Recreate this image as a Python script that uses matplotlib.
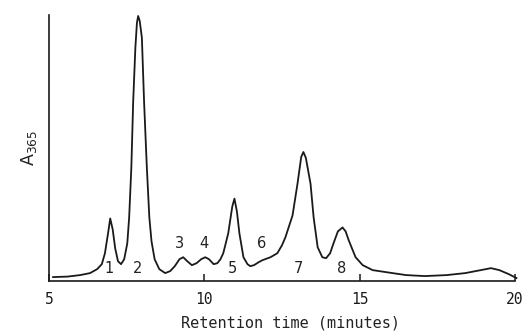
import matplotlib
matplotlib.use('Agg')
import matplotlib.pyplot as plt

# Chromatogram trace (retention time, absorbance in arbitrary units)
time_min = [5.13, 5.6, 6.0, 6.32, 6.55, 6.7, 6.8, 6.9, 6.97, 7.05, 7.13, 7.22, 7.32,
            7.42, 7.52, 7.58, 7.65, 7.71, 7.78, 7.83, 7.87, 7.92, 7.99, 8.06, 8.15,
            8.23, 8.3, 8.4, 8.55, 8.74, 8.9, 9.05, 9.2, 9.32, 9.45, 9.6, 9.75, 9.9,
            10.03, 10.15, 10.3, 10.42, 10.52, 10.61, 10.77, 10.9, 10.97, 11.05, 11.13,
            11.26, 11.39, 11.48, 11.6, 11.75, 11.87, 12.13, 12.35, 12.5, 12.61, 12.84,
            13.0, 13.12, 13.19, 13.27, 13.42, 13.52, 13.65, 13.8, 13.92, 14.05, 14.16,
            14.3, 14.45, 14.55, 14.65, 14.87, 15.1, 15.42, 16.06, 16.5, 17.1, 17.8,
            18.4, 18.9, 19.23, 19.5, 19.8, 20.05]
absorbance = [4, 4.5, 6, 8, 12, 17, 28, 48, 63, 52, 33, 20, 17,
              22, 38, 64, 114, 181, 235, 260, 267, 262, 245, 181, 114,
              64, 40, 22, 12, 8, 10, 15, 22, 24, 20, 16, 18, 22,
              24, 22, 17, 18, 22, 28, 48, 75, 83, 70, 48,
              24, 17, 15, 16, 19, 21, 24, 28, 36, 44, 66,
              98, 125, 130, 124, 98, 64, 34, 24, 23, 28, 38,
              50, 54, 50, 41, 24, 16, 11, 8, 6, 5, 6,
              8, 11, 13, 11, 7, 3]

# peak numbers and where they sit
peak_names = ['1', '2', '3', '4', '5', '6', '7', '8']
peak_x = [6.94, 7.84, 9.19, 10.0, 10.9, 11.84, 13.03, 14.42]
peak_y = [13, 13, 38, 38, 13, 38, 13, 13]

x_ticks = [5, 10, 15, 20]

fig = plt.figure(figsize=(5.3, 3.33), dpi=100)
ax = fig.add_axes([0.0925, 0.156, 0.879, 0.799])

ax.plot(time_min, absorbance, color='#1a1a1a', lw=1.3, clip_on=False)

for name, px, py in zip(peak_names, peak_x, peak_y):
    ax.text(px, py, name, ha='center', va='center', fontsize=10.5,
            color='#222222', family='DejaVu Sans')

ax.set_xlim(5, 20)
ax.set_ylim(0, 268)
ax.spines['top'].set_visible(False)
ax.spines['right'].set_visible(False)
ax.spines['left'].set_color('#1a1a1a')
ax.spines['bottom'].set_color('#1a1a1a')
ax.spines['left'].set_linewidth(1.2)
ax.spines['bottom'].set_linewidth(1.2)

ax.set_yticks([])
ax.set_xticks(x_ticks)
ax.set_xticklabels([str(t) for t in x_ticks], family='DejaVu Sans Mono', fontsize=10.5)
ax.tick_params(axis='x', direction='in', length=5, width=1.1, pad=8, colors='#1a1a1a')

ax.set_xlabel('Retention time (minutes)', family='DejaVu Sans Mono', fontsize=11,
              color='#222222')
ax.xaxis.set_label_coords(0.519, -0.13)
ax.set_ylabel(r'A$_{365}$', fontsize=12.5, color='#222222')
ax.yaxis.set_label_coords(-0.022, 0.5)

fig.savefig('out.png', dpi=100)
